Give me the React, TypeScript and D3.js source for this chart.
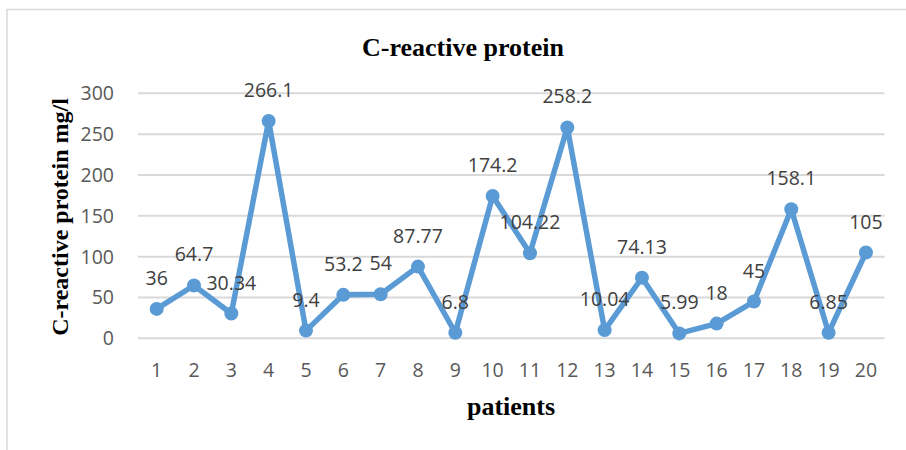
import React from "react";
import { scalePoint, scaleLinear, line } from "d3";

const patients = [
  "1", "2", "3", "4", "5", "6", "7", "8", "9", "10",
  "11", "12", "13", "14", "15", "16", "17", "18", "19", "20",
];
const crpValues = [
  36, 64.7, 30.34, 266.1, 9.4, 53.2, 54, 87.77, 6.8, 174.2,
  104.22, 258.2, 10.04, 74.13, 5.99, 18, 45, 158.1, 6.85, 105,
];
const yTicks = [0, 50, 100, 150, 200, 250, 300];

const WIDTH = 906;
const HEIGHT = 450;
const plot = { left: 138, right: 884.6, top: 93.3, bottom: 338.3 };

const BLUE = "#5B9BD5";
const GRID = "#d9d9d9";
const sansFont = "'Open Sans', 'Noto Sans', sans-serif";
const serifFont = "'Liberation Serif', 'DejaVu Serif', serif";

export default function App() {
  const x = scalePoint<string>()
    .domain(patients)
    .range([plot.left, plot.right])
    .padding(0.5);

  const y = scaleLinear().domain([0, 300]).range([plot.bottom, plot.top]);

  const points = crpValues.map((v, i) => ({ p: patients[i], v }));

  const path = line<{ p: string; v: number }>()
    .x((d) => x(d.p) as number)
    .y((d) => y(d.v))(points);

  return (
    <svg
      width={WIDTH}
      height={HEIGHT}
      style={{ position: "absolute", left: 0, top: 0, background: "#fff" }}
    >
      {/* chart area border */}
      <rect x={7} y={9.5} width={920} height={460} fill="#fff" stroke={GRID} strokeWidth={1.5} />

      {/* title */}
      <text
        x={463}
        y={55.5}
        textAnchor="middle"
        fontFamily={serifFont}
        fontWeight="bold"
        fontSize={26}
        fill="#000"
      >
        C-reactive protein
      </text>

      {/* gridlines + y ticks */}
      {yTicks.map((t) => (
        <g key={t}>
          <line
            x1={plot.left}
            x2={plot.right}
            y1={y(t)}
            y2={y(t)}
            stroke={GRID}
            strokeWidth={2}
          />
          <text
            x={114}
            y={y(t)}
            dy="0.36em"
            textAnchor="end"
            fontFamily={sansFont}
            fontSize={19.5}
            fill="#595959"
          >
            {t}
          </text>
        </g>
      ))}

      {/* x ticks */}
      {patients.map((p) => (
        <text
          key={p}
          x={x(p)}
          y={377}
          textAnchor="middle"
          fontFamily={sansFont}
          fontSize={19.5}
          fill="#595959"
        >
          {p}
        </text>
      ))}

      {/* series line */}
      <path
        d={path || ""}
        fill="none"
        stroke={BLUE}
        strokeWidth={5.5}
        strokeLinejoin="round"
        strokeLinecap="round"
      />
      {points.map((d) => (
        <circle key={d.p} cx={x(d.p)} cy={y(d.v)} r={7} fill={BLUE} />
      ))}

      {/* data labels */}
      {points.map((d) => (
        <text
          key={"l" + d.p}
          x={x(d.p)}
          y={y(d.v) - 24}
          textAnchor="middle"
          fontFamily={sansFont}
          fontSize={19.5}
          fill="#404040"
        >
          {d.v}
        </text>
      ))}

      {/* axis titles */}
      <text
        transform="translate(68,217) rotate(-90)"
        textAnchor="middle"
        fontFamily={serifFont}
        fontWeight="bold"
        fontSize={24}
        fill="#000"
      >
        C-reactive protein mg/l
      </text>
      <text
        x={511}
        y={415}
        textAnchor="middle"
        fontFamily={serifFont}
        fontWeight="bold"
        fontSize={26}
        fill="#000"
      >
        patients
      </text>
    </svg>
  );
}
